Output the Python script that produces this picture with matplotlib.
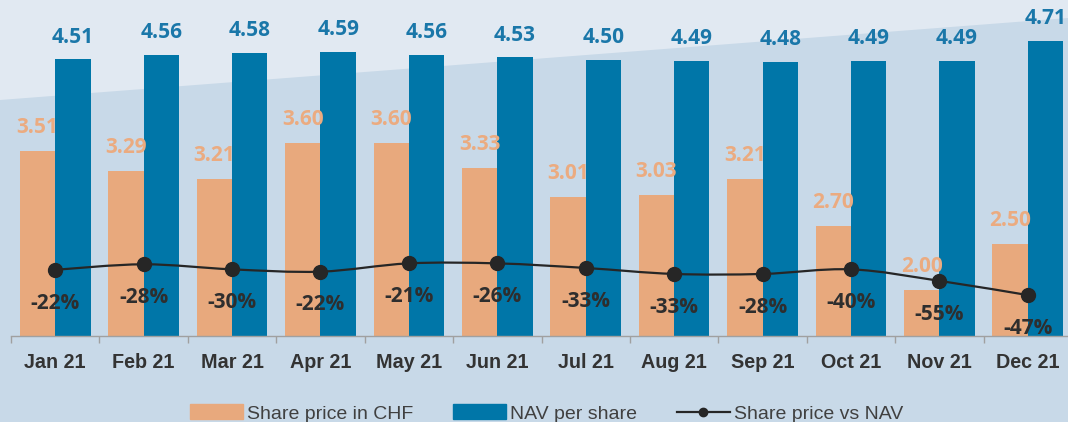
import numpy as np
import matplotlib.pyplot as plt
from matplotlib.path import Path
from matplotlib.patches import PathPatch, Polygon, Patch
from matplotlib.lines import Line2D

months = ['Jan 21', 'Feb 21', 'Mar 21', 'Apr 21', 'May 21', 'Jun 21',
          'Jul 21', 'Aug 21', 'Sep 21', 'Oct 21', 'Nov 21', 'Dec 21']
share_price = [3.51, 3.29, 3.21, 3.60, 3.60, 3.33, 3.01, 3.03, 3.21, 2.70, 2.00, 2.50]
nav = [4.51, 4.56, 4.58, 4.59, 4.56, 4.53, 4.50, 4.49, 4.48, 4.49, 4.49, 4.71]
discount_labels = ['-22%', '-28%', '-30%', '-22%', '-21%', '-26%',
                   '-33%', '-33%', '-28%', '-40%', '-55%', '-47%']
# level of the "share price vs NAV" line as it sits in the picture
line_level = [2.22, 2.28, 2.225, 2.20, 2.29, 2.29, 2.24, 2.175, 2.175, 2.225, 2.10, 1.945]

orange = '#E8A97D'
blue = '#0076A8'
dark = '#262626'

fig = plt.figure(figsize=(10.68, 4.22), dpi=100)
fig.patch.set_facecolor('#C8D9E8')
fig.patches.append(Polygon([(0, 1), (0, 1 - 100 / 422), (1, 1 - 18 / 422), (1, 1)],
                           closed=True, transform=fig.transFigure,
                           facecolor='#E1E9F2', edgecolor='none', zorder=-1))

ax = fig.add_axes([11 / 1068, 86 / 422, 1061 / 1068, 336 / 422])
ax.set_facecolor('none')

x = np.arange(len(months))
w = 0.4
ax.bar(x - w / 2, share_price, w, color=orange, zorder=2)
ax.bar(x + w / 2, nav, w, color=blue, zorder=2)
ax.set_xlim(-0.5, 11.5)
ax.set_ylim(1.5, 5.155)

# smooth line through the points (Catmull-Rom as bezier path)
pts = np.column_stack([x, line_level]).astype(float)
n = len(pts)
verts = [pts[0]]
codes = [Path.MOVETO]
for i in range(n - 1):
    p0 = pts[max(i - 1, 0)]
    p1 = pts[i]
    p2 = pts[i + 1]
    p3 = pts[min(i + 2, n - 1)]
    verts += [p1 + (p2 - p0) / 6, p2 - (p3 - p1) / 6, p2]
    codes += [Path.CURVE4] * 3
ax.add_patch(PathPatch(Path(verts, codes), facecolor='none', edgecolor=dark,
                       lw=1.6, zorder=3))
ax.plot(x, line_level, 'o', color=dark, ms=10, zorder=4)

lbl_font = dict(fontfamily='Open Sans', fontweight='bold', fontsize=15)
for i in range(n):
    ax.annotate(f'{share_price[i]:.2f}', (x[i] - w / 2, share_price[i]),
                xytext=(0, 17), textcoords='offset points', ha='center', va='center',
                color='#EBAB80', **lbl_font)
    ax.annotate(f'{nav[i]:.2f}', (x[i] + w / 2, nav[i]),
                xytext=(0, 16), textcoords='offset points', ha='center', va='center',
                color='#1A77A9', **lbl_font)
    ax.annotate(discount_labels[i], (x[i], line_level[i]),
                xytext=(0, -24), textcoords='offset points', ha='center', va='center',
                color='#2E2E2E', zorder=5, **lbl_font)

ax.set_xticks(x)
ax.set_xticklabels(months, fontfamily='Liberation Sans', fontweight='bold',
                   fontsize=14.2, color='#333333')
ax.tick_params(axis='x', which='major', length=0, pad=12)
ax.set_xticks(np.arange(-0.5, 12, 1), minor=True)
ax.tick_params(axis='x', which='minor', length=5, color='#A0A0A0', width=1)
ax.set_yticks([])
for s in ['left', 'right', 'top']:
    ax.spines[s].set_visible(False)
ax.spines['bottom'].set_color('#A0A0A0')
ax.spines['bottom'].set_linewidth(1)

handles = [Patch(color=orange), Patch(color=blue),
           Line2D([], [], color=dark, lw=1.6, marker='o', ms=6)]
labels = ['Share price in CHF', 'NAV per share', 'Share price vs NAV']
fig.legend(handles, labels, loc='center', bbox_to_anchor=(0.512, 0.02), ncol=3,
           frameon=False, prop=dict(family='Liberation Sans', size=14),
           handlelength=2.7, handleheight=0.8, handletextpad=0.23, columnspacing=2.05,
           labelcolor='#404040')

fig.savefig('out.png', dpi=100, facecolor=fig.get_facecolor())
